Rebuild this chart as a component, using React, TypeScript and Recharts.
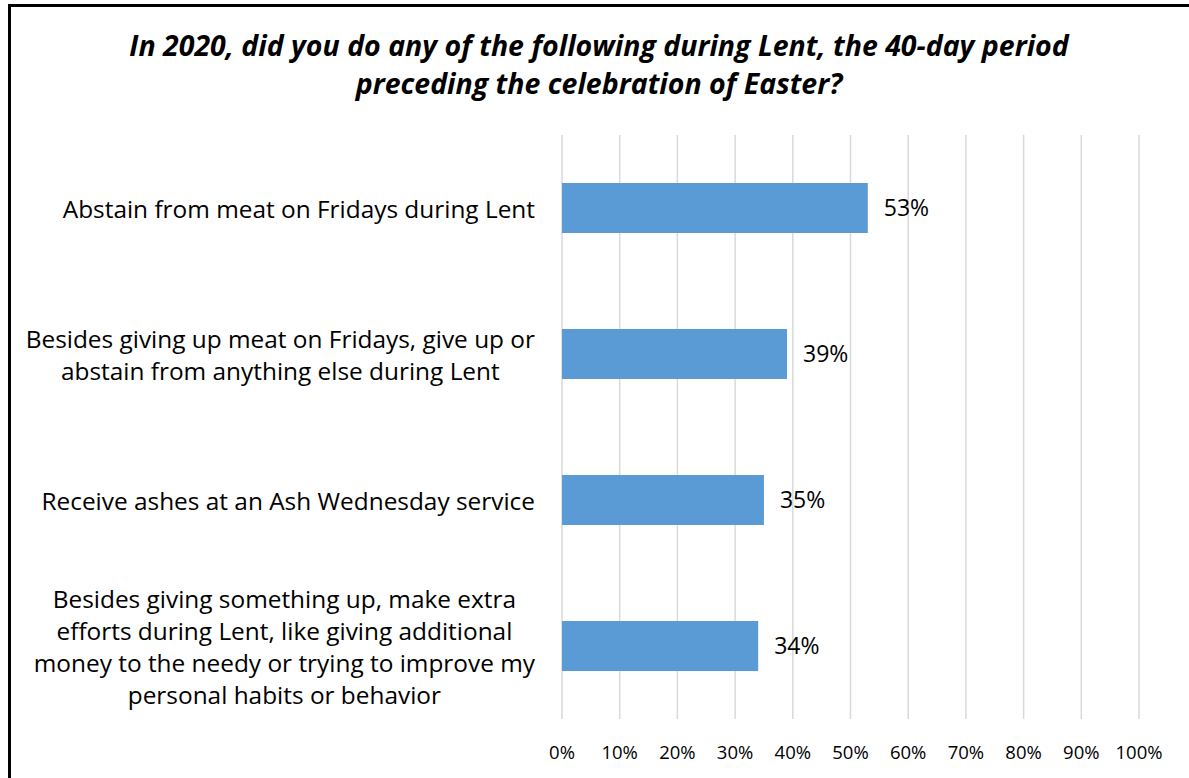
import { BarChart, Bar, XAxis, YAxis, CartesianGrid, LabelList } from 'recharts'

// ==================== || LENT PRACTICES 2020 - HORIZONTAL BAR ||==================== //

const TITLE_LINES = [
    'In 2020, did you do any of the following during Lent, the 40-day period',
    'preceding the celebration of Easter?',
]

const categories = [
    'Abstain from meat on Fridays during Lent',
    'Besides giving up meat on Fridays, give up or\nabstain from anything else during Lent',
    'Receive ashes at an Ash Wednesday service',
    'Besides giving something up, make extra\nefforts during Lent, like giving additional\nmoney to the needy or trying to improve my\npersonal habits or behavior',
]

const shares = [53, 39, 35, 34]

const xTicks = [0, 10, 20, 30, 40, 50, 60, 70, 80, 90, 100]

const data = categories.map((name, i) => ({ name, value: shares[i] }))

const FONT = '"Open Sans", "Noto Sans", sans-serif'
const LABEL_SIZE = 24.4
const LINE_GAP = 32

let measureCtx: CanvasRenderingContext2D | null = null
const measure = (text: string) => {
    if (!measureCtx) {
        measureCtx = document.createElement('canvas').getContext('2d')
    }
    if (!measureCtx) return text.length * LABEL_SIZE * 0.5
    measureCtx.font = `${LABEL_SIZE}px "Open Sans"`
    return measureCtx.measureText(text).width
}

const CategoryTick = ({ x, y, payload }: any) => {
    const lines = String(payload.value).split('\n')
    const widest = Math.max(...lines.map(measure))
    const right = x - 27
    const cx = right - widest / 2
    const top = y - ((lines.length - 1) * LINE_GAP) / 2
    return (
        <g>
            {lines.map((line, i) => (
                <text
                    key={i}
                    x={cx}
                    y={top + i * LINE_GAP}
                    textAnchor="middle"
                    dominantBaseline="central"
                    fontFamily={FONT}
                    fontSize={LABEL_SIZE}
                    fill="#000"
                >
                    {line}
                </text>
            ))}
        </g>
    )
}

const PercentTick = ({ x, y, payload }: any) => (
    <text
        x={x}
        y={y + 32}
        textAnchor="middle"
        dominantBaseline="central"
        fontFamily={FONT}
        fontSize={18.5}
        fill="#000"
    >
        {`${payload.value}%`}
    </text>
)

const App = () => {
    return (
        <div
            style={{
                position: 'fixed',
                left: 0,
                top: 0,
                width: 1189,
                height: 778,
                overflow: 'hidden',
                background: '#fff',
            }}
        >
            <div
                style={{
                    position: 'absolute',
                    left: 8,
                    top: 4,
                    width: 1250,
                    height: 850,
                    border: '3px solid #000',
                    boxSizing: 'border-box',
                }}
            />
            <div style={{ position: 'absolute', left: 0, top: 0 }}>
                <BarChart
                    width={1189}
                    height={778}
                    data={data}
                    layout="vertical"
                    barSize={50}
                    margin={{ top: 135, right: 50, bottom: 29, left: 0 }}
                >
                    <text
                        x={599}
                        y={45}
                        textAnchor="middle"
                        dominantBaseline="central"
                        fontFamily={FONT}
                        fontSize={28.5}
                        fontWeight="bold"
                        fontStyle="italic"
                        fill="#000"
                    >
                        {TITLE_LINES[0]}
                    </text>
                    <text
                        x={599}
                        y={83}
                        textAnchor="middle"
                        dominantBaseline="central"
                        fontFamily={FONT}
                        fontSize={28.5}
                        fontWeight="bold"
                        fontStyle="italic"
                        fill="#000"
                    >
                        {TITLE_LINES[1]}
                    </text>
                    <CartesianGrid horizontal={false} stroke="#d9d9d9" strokeWidth={1.5} />
                    <XAxis
                        type="number"
                        domain={[0, 100]}
                        ticks={xTicks}
                        interval={0}
                        axisLine={false}
                        tickLine={false}
                        tickSize={0}
                        tickMargin={0}
                        height={30}
                        tick={<PercentTick />}
                    />
                    <YAxis
                        type="category"
                        dataKey="name"
                        width={562}
                        axisLine={false}
                        tickLine={false}
                        tickSize={0}
                        tickMargin={0}
                        interval={0}
                        tick={<CategoryTick />}
                    />
                    <Bar dataKey="value" fill="#5B9BD5" isAnimationActive={false}>
                        <LabelList
                            dataKey="value"
                            position="right"
                            offset={16}
                            formatter={(v: any) => `${v}%`}
                            fontFamily={FONT}
                            fontSize={23}
                            fill="#000"
                        />
                    </Bar>
                </BarChart>
            </div>
        </div>
    )
}

export default App
